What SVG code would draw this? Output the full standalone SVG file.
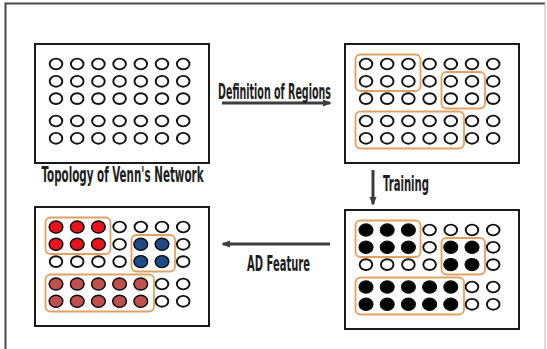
<svg xmlns="http://www.w3.org/2000/svg" xmlns:xlink="http://www.w3.org/1999/xlink" width="547" height="349" viewBox="0 0 547 349">
<style>
.bg{fill:#ffffff}
.frame{fill:none;stroke:#4a4a4a;stroke-width:2}
.frame2{fill:none;stroke:#c4c4c4;stroke-width:1.2}
.panel{fill:#ffffff;stroke:#1a1a1a;stroke-width:2}
.c{fill:#ffffff;stroke:#111111;stroke-width:1.9}
.f{stroke:#111111;stroke-width:1.4}
.red{fill:#e8141b}
.blue{fill:#1f4c86}
.mred{fill:#c0504d}
.blk{fill:#000000}
.box{fill:none;stroke:#e0a263;stroke-width:1.8}
.arrow{stroke:#3e3e3e;stroke-width:3;fill:none}
.lbl{font-family:"DejaVu Sans Condensed","DejaVu Sans","Liberation Sans",sans-serif;font-weight:bold;font-size:21px;fill:#1e1e1e}
</style>
<defs>
<marker id="ah" viewBox="0 0 10 10" refX="8" refY="5" markerWidth="3" markerHeight="3" orient="auto" markerUnits="strokeWidth">
<path d="M0,1 L10,5 L0,9 Z" fill="#3e3e3e"/>
</marker>
<g id="grid">
<ellipse class="c" cx="21" cy="20" rx="6.3" ry="5.4"/><ellipse class="c" cx="42.2" cy="20" rx="6.3" ry="5.4"/><ellipse class="c" cx="63.4" cy="20" rx="6.3" ry="5.4"/><ellipse class="c" cx="84.6" cy="20" rx="6.3" ry="5.4"/><ellipse class="c" cx="105.8" cy="20" rx="6.3" ry="5.4"/><ellipse class="c" cx="127" cy="20" rx="6.3" ry="5.4"/><ellipse class="c" cx="148.2" cy="20" rx="6.3" ry="5.4"/>
<ellipse class="c" cx="21" cy="37.3" rx="6.3" ry="5.4"/><ellipse class="c" cx="42.2" cy="37.3" rx="6.3" ry="5.4"/><ellipse class="c" cx="63.4" cy="37.3" rx="6.3" ry="5.4"/><ellipse class="c" cx="84.6" cy="37.3" rx="6.3" ry="5.4"/><ellipse class="c" cx="105.8" cy="37.3" rx="6.3" ry="5.4"/><ellipse class="c" cx="127" cy="37.3" rx="6.3" ry="5.4"/><ellipse class="c" cx="148.2" cy="37.3" rx="6.3" ry="5.4"/>
<ellipse class="c" cx="21" cy="54.6" rx="6.3" ry="5.4"/><ellipse class="c" cx="42.2" cy="54.6" rx="6.3" ry="5.4"/><ellipse class="c" cx="63.4" cy="54.6" rx="6.3" ry="5.4"/><ellipse class="c" cx="84.6" cy="54.6" rx="6.3" ry="5.4"/><ellipse class="c" cx="105.8" cy="54.6" rx="6.3" ry="5.4"/><ellipse class="c" cx="127" cy="54.6" rx="6.3" ry="5.4"/><ellipse class="c" cx="148.2" cy="54.6" rx="6.3" ry="5.4"/>
<ellipse class="c" cx="21" cy="77" rx="6.3" ry="5.4"/><ellipse class="c" cx="42.2" cy="77" rx="6.3" ry="5.4"/><ellipse class="c" cx="63.4" cy="77" rx="6.3" ry="5.4"/><ellipse class="c" cx="84.6" cy="77" rx="6.3" ry="5.4"/><ellipse class="c" cx="105.8" cy="77" rx="6.3" ry="5.4"/><ellipse class="c" cx="127" cy="77" rx="6.3" ry="5.4"/><ellipse class="c" cx="148.2" cy="77" rx="6.3" ry="5.4"/>
<ellipse class="c" cx="21" cy="94.3" rx="6.3" ry="5.4"/><ellipse class="c" cx="42.2" cy="94.3" rx="6.3" ry="5.4"/><ellipse class="c" cx="63.4" cy="94.3" rx="6.3" ry="5.4"/><ellipse class="c" cx="84.6" cy="94.3" rx="6.3" ry="5.4"/><ellipse class="c" cx="105.8" cy="94.3" rx="6.3" ry="5.4"/><ellipse class="c" cx="127" cy="94.3" rx="6.3" ry="5.4"/><ellipse class="c" cx="148.2" cy="94.3" rx="6.3" ry="5.4"/>
</g>
<g id="boxes">
<rect class="box" x="10.5" y="10.5" width="65" height="36.5" rx="5"/>
<rect class="box" x="96.5" y="28" width="43.5" height="36.5" rx="5"/>
<rect class="box" x="10.5" y="67.5" width="108.5" height="37" rx="5"/>
</g>
</defs>
<rect class="bg" x="0" y="0" width="547" height="349"/>
<path class="frame" d="M5.5,349 V3.5 H545"/>
<path class="frame2" d="M545,3.5 V349"/>

<g id="topology" transform="translate(35,44)">
<rect class="panel" x="0" y="0" width="174" height="119"/>
<use xlink:href="#grid" href="#grid"/>
</g>
<text class="lbl" x="41.5" y="182" textLength="162" lengthAdjust="spacingAndGlyphs">Topology of Venn's Network</text>

<g id="regions" transform="translate(345,44)">
<rect class="panel" x="0" y="0" width="174" height="119"/>
<use xlink:href="#grid" href="#grid"/>
<use xlink:href="#boxes" href="#boxes"/>
</g>

<g id="trained" transform="translate(345,210)">
<rect class="panel" x="0" y="0" width="174" height="119"/>
<use xlink:href="#grid" href="#grid"/>
<g class="f blk">
<ellipse cx="21" cy="20" rx="6.8" ry="6"/><ellipse cx="42.2" cy="20" rx="6.8" ry="6"/><ellipse cx="63.4" cy="20" rx="6.8" ry="6"/>
<ellipse cx="21" cy="37.3" rx="6.8" ry="6"/><ellipse cx="42.2" cy="37.3" rx="6.8" ry="6"/><ellipse cx="63.4" cy="37.3" rx="6.8" ry="6"/>
<ellipse cx="105.8" cy="37.3" rx="6.8" ry="6"/><ellipse cx="127" cy="37.3" rx="6.8" ry="6"/>
<ellipse cx="105.8" cy="54.6" rx="6.8" ry="6"/><ellipse cx="127" cy="54.6" rx="6.8" ry="6"/>
<ellipse cx="21" cy="77" rx="6.8" ry="6"/><ellipse cx="42.2" cy="77" rx="6.8" ry="6"/><ellipse cx="63.4" cy="77" rx="6.8" ry="6"/><ellipse cx="84.6" cy="77" rx="6.8" ry="6"/><ellipse cx="105.8" cy="77" rx="6.8" ry="6"/>
<ellipse cx="21" cy="94.3" rx="6.8" ry="6"/><ellipse cx="42.2" cy="94.3" rx="6.8" ry="6"/><ellipse cx="63.4" cy="94.3" rx="6.8" ry="6"/><ellipse cx="84.6" cy="94.3" rx="6.8" ry="6"/><ellipse cx="105.8" cy="94.3" rx="6.8" ry="6"/>
</g>
<use xlink:href="#boxes" href="#boxes"/>
</g>

<g id="adfeature" transform="translate(35,207)">
<rect class="panel" x="0" y="0" width="174" height="119"/>
<use xlink:href="#grid" href="#grid"/>
<g class="f red">
<ellipse cx="21" cy="20" rx="6.8" ry="6"/><ellipse cx="42.2" cy="20" rx="6.8" ry="6"/><ellipse cx="63.4" cy="20" rx="6.8" ry="6"/>
<ellipse cx="21" cy="37.3" rx="6.8" ry="6"/><ellipse cx="42.2" cy="37.3" rx="6.8" ry="6"/><ellipse cx="63.4" cy="37.3" rx="6.8" ry="6"/>
</g>
<g class="f blue">
<ellipse cx="105.8" cy="37.3" rx="6.8" ry="6"/><ellipse cx="127" cy="37.3" rx="6.8" ry="6"/>
<ellipse cx="105.8" cy="54.6" rx="6.8" ry="6"/><ellipse cx="127" cy="54.6" rx="6.8" ry="6"/>
</g>
<g class="f mred">
<ellipse cx="21" cy="77" rx="6.8" ry="6"/><ellipse cx="42.2" cy="77" rx="6.8" ry="6"/><ellipse cx="63.4" cy="77" rx="6.8" ry="6"/><ellipse cx="84.6" cy="77" rx="6.8" ry="6"/><ellipse cx="105.8" cy="77" rx="6.8" ry="6"/>
<ellipse cx="21" cy="94.3" rx="6.8" ry="6"/><ellipse cx="42.2" cy="94.3" rx="6.8" ry="6"/><ellipse cx="63.4" cy="94.3" rx="6.8" ry="6"/><ellipse cx="84.6" cy="94.3" rx="6.8" ry="6"/><ellipse cx="105.8" cy="94.3" rx="6.8" ry="6"/>
</g>
<use xlink:href="#boxes" href="#boxes"/>
</g>

<g id="connectors">
<line class="arrow" x1="222" y1="103" x2="330" y2="103" marker-end="url(#ah)"/>
<line class="arrow" x1="373" y1="170" x2="373" y2="204" marker-end="url(#ah)"/>
<line class="arrow" x1="330" y1="244" x2="223" y2="244" marker-end="url(#ah)"/>
<text class="lbl" x="218" y="98.5" textLength="113" lengthAdjust="spacingAndGlyphs">Definition of Regions</text>
<text class="lbl" x="383" y="191" textLength="46" lengthAdjust="spacingAndGlyphs">Training</text>
<text class="lbl" x="247" y="271" textLength="63" lengthAdjust="spacingAndGlyphs">AD Feature</text>
</g>
</svg>
